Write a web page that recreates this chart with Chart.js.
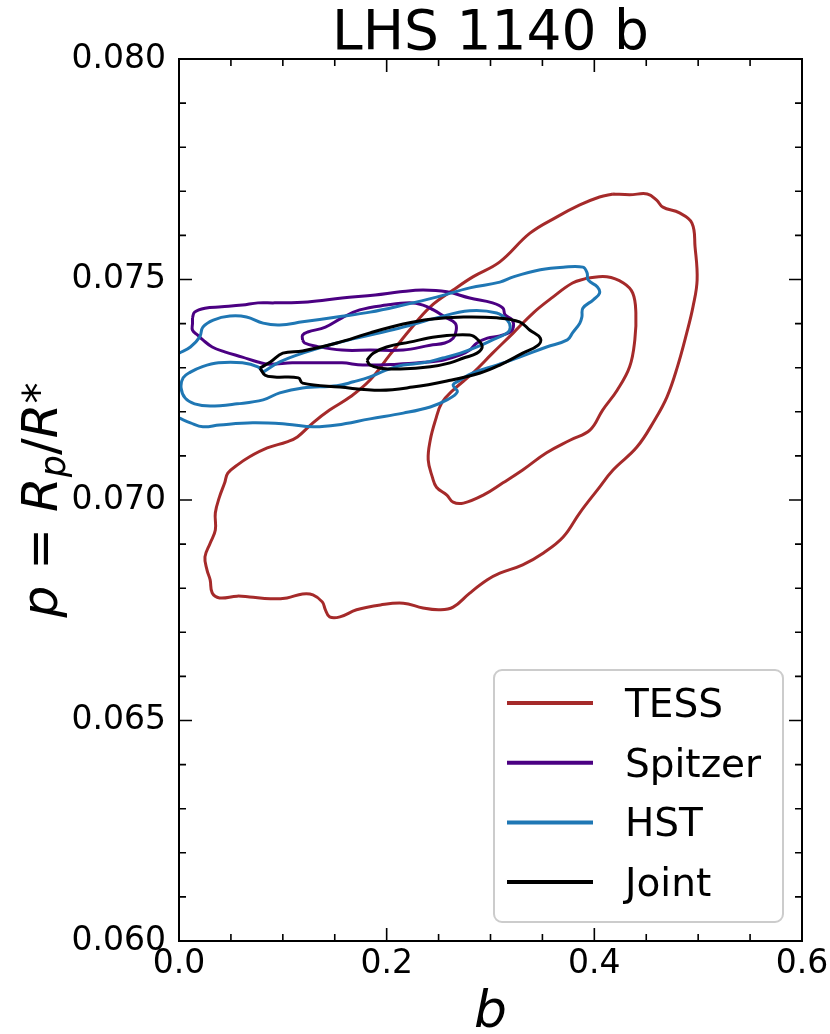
<!DOCTYPE html>
<html><head><meta charset="utf-8">
<script src="https://cdn.jsdelivr.net/npm/chart.js@4.4.0/dist/chart.umd.min.js"></script>
<style>html,body{margin:0;padding:0;background:#fff;}#c{display:block;}</style>
</head><body>
<canvas id="c" width="830" height="1034" style="width:830px;height:1034px"></canvas>
<script>
// ---------- text / categories ----------
const chartTitle = 'LHS 1140 b';
const xAxisLabel = 'b';
const seriesNames = ['TESS', 'Spitzer', 'HST', 'Joint'];
const seriesColors = ['#a52a2a', '#4b0082', '#1f77b4', '#000000'];
const xTickValues = [0.0, 0.2, 0.4, 0.6];
const yTickValues = [0.060, 0.065, 0.070, 0.075, 0.080];
const xMinorStep = 0.05;
const yMinorStep = 0.001;

// ---------- contour data: [b, p] pairs ----------
const tessOuter = [[0.418,0.07694],[0.434,0.07692],[0.451,0.07694],[0.460,0.07680],[0.466,0.07664],[0.482,0.07651],[0.494,0.07628],[0.497,0.07574],[0.499,0.07499],[0.495,0.07438],[0.489,0.07379],[0.480,0.07302],[0.470,0.07234],[0.458,0.07181],[0.441,0.07120],[0.418,0.07068],[0.403,0.07023],[0.386,0.06971],[0.370,0.06916],[0.351,0.06880],[0.331,0.06853],[0.309,0.06834],[0.297,0.06819],[0.280,0.06789],[0.264,0.06757],[0.251,0.06751],[0.235,0.06755],[0.216,0.06766],[0.194,0.06762],[0.171,0.06751],[0.155,0.06735],[0.145,0.06735],[0.141,0.06751],[0.138,0.06769],[0.129,0.06785],[0.119,0.06787],[0.104,0.06778],[0.088,0.06776],[0.068,0.06780],[0.056,0.06782],[0.039,0.06778],[0.032,0.06789],[0.030,0.06819],[0.027,0.06841],[0.025,0.06871],[0.030,0.06902],[0.035,0.06932],[0.035,0.06971],[0.039,0.07007],[0.044,0.07039],[0.047,0.07061],[0.056,0.07079],[0.068,0.07098],[0.085,0.07118],[0.104,0.07132],[0.114,0.07143],[0.129,0.07175],[0.145,0.07204],[0.165,0.07234],[0.184,0.07272],[0.203,0.07329],[0.222,0.07385],[0.242,0.07438],[0.264,0.07476],[0.283,0.07506],[0.309,0.07540],[0.338,0.07605],[0.364,0.07642],[0.386,0.07669],[0.405,0.07687]];
const tessInner = [[0.393,0.07503],[0.412,0.07506],[0.428,0.07492],[0.437,0.07469],[0.440,0.07424],[0.439,0.07363],[0.434,0.07302],[0.422,0.07249],[0.408,0.07204],[0.396,0.07159],[0.377,0.07136],[0.354,0.07107],[0.331,0.07068],[0.312,0.07039],[0.293,0.07011],[0.274,0.06993],[0.264,0.06995],[0.258,0.07011],[0.248,0.07029],[0.244,0.07052],[0.240,0.07091],[0.242,0.07136],[0.247,0.07181],[0.253,0.07220],[0.264,0.07249],[0.283,0.07288],[0.302,0.07333],[0.322,0.07379],[0.341,0.07424],[0.360,0.07460],[0.379,0.07492]];
const spitzerOuter = [[0.013,0.07413],[0.015,0.07426],[0.025,0.07435],[0.041,0.07438],[0.061,0.07442],[0.076,0.07447],[0.092,0.07447],[0.124,0.07449],[0.157,0.07458],[0.189,0.07465],[0.213,0.07472],[0.235,0.07476],[0.258,0.07472],[0.280,0.07458],[0.302,0.07447],[0.312,0.07435],[0.314,0.07420],[0.321,0.07408],[0.322,0.07392],[0.319,0.07381],[0.309,0.07372],[0.297,0.07367],[0.287,0.07356],[0.280,0.07340],[0.271,0.07329],[0.254,0.07317],[0.239,0.07313],[0.210,0.07308],[0.177,0.07306],[0.157,0.07311],[0.124,0.07311],[0.109,0.07311],[0.086,0.07308],[0.076,0.07313],[0.061,0.07324],[0.044,0.07336],[0.032,0.07347],[0.023,0.07363],[0.018,0.07374],[0.013,0.07385],[0.013,0.07401]];
const spitzerInner = [[0.119,0.07363],[0.119,0.07374],[0.124,0.07381],[0.141,0.07392],[0.157,0.07413],[0.174,0.07431],[0.200,0.07442],[0.222,0.07447],[0.235,0.07442],[0.245,0.07431],[0.256,0.07415],[0.266,0.07401],[0.267,0.07385],[0.264,0.07367],[0.256,0.07356],[0.242,0.07351],[0.216,0.07340],[0.184,0.07340],[0.157,0.07340],[0.131,0.07349],[0.121,0.07356]];
const hstOuter = [[0.000,0.07333],[0.011,0.07347],[0.020,0.07370],[0.023,0.07392],[0.033,0.07408],[0.049,0.07417],[0.065,0.07415],[0.081,0.07401],[0.097,0.07397],[0.119,0.07404],[0.152,0.07415],[0.184,0.07426],[0.216,0.07442],[0.248,0.07460],[0.280,0.07481],[0.309,0.07494],[0.322,0.07506],[0.348,0.07522],[0.370,0.07528],[0.389,0.07528],[0.393,0.07515],[0.394,0.07499],[0.403,0.07483],[0.405,0.07469],[0.399,0.07454],[0.389,0.07435],[0.388,0.07415],[0.386,0.07401],[0.379,0.07379],[0.374,0.07363],[0.354,0.07347],[0.328,0.07324],[0.306,0.07306],[0.283,0.07288],[0.271,0.07272],[0.264,0.07261],[0.268,0.07245],[0.258,0.07227],[0.242,0.07211],[0.216,0.07197],[0.184,0.07184],[0.152,0.07170],[0.129,0.07166],[0.104,0.07172],[0.071,0.07175],[0.039,0.07170],[0.023,0.07166],[0.011,0.07175],[0.000,0.07186]];
const hstInner = [[0.081,0.07290],[0.097,0.07313],[0.119,0.07333],[0.152,0.07356],[0.184,0.07374],[0.216,0.07392],[0.248,0.07413],[0.280,0.07429],[0.306,0.07424],[0.316,0.07408],[0.319,0.07392],[0.316,0.07379],[0.302,0.07363],[0.287,0.07347],[0.271,0.07333],[0.254,0.07322],[0.235,0.07311],[0.216,0.07306],[0.200,0.07295],[0.184,0.07279],[0.168,0.07268],[0.152,0.07259],[0.119,0.07254],[0.097,0.07243],[0.081,0.07227],[0.056,0.07218],[0.030,0.07213],[0.015,0.07218],[0.006,0.07231],[0.002,0.07254],[0.004,0.07277],[0.011,0.07290],[0.022,0.07302],[0.038,0.07311],[0.061,0.07311],[0.076,0.07302]];
const jointOuter = [[0.078,0.07299],[0.088,0.07313],[0.100,0.07333],[0.119,0.07338],[0.152,0.07356],[0.184,0.07379],[0.216,0.07399],[0.242,0.07410],[0.274,0.07415],[0.306,0.07413],[0.328,0.07404],[0.338,0.07385],[0.348,0.07367],[0.346,0.07351],[0.331,0.07333],[0.309,0.07306],[0.290,0.07288],[0.258,0.07270],[0.225,0.07256],[0.194,0.07249],[0.155,0.07256],[0.119,0.07265],[0.115,0.07277],[0.092,0.07279],[0.083,0.07283]];
const jointInner = [[0.181,0.07317],[0.187,0.07333],[0.200,0.07347],[0.222,0.07358],[0.248,0.07370],[0.280,0.07374],[0.288,0.07363],[0.292,0.07347],[0.287,0.07333],[0.274,0.07322],[0.261,0.07311],[0.242,0.07302],[0.213,0.07297],[0.194,0.07299],[0.184,0.07306]];

// which series each contour belongs to, and whether it is a closed loop
const contours = [
  {pts: tessOuter, s: 0, closed: true},
  {pts: tessInner, s: 0, closed: true},
  {pts: spitzerOuter, s: 1, closed: true},
  {pts: spitzerInner, s: 1, closed: true},
  {pts: hstOuter, s: 2, closed: false},
  {pts: hstInner, s: 2, closed: true},
  {pts: jointOuter, s: 3, closed: true},
  {pts: jointInner, s: 3, closed: true}
];

const FONT = '"DejaVu Sans", "Liberation Sans", sans-serif';

const datasets = contours.map(c => {
  const data = c.pts.map(([b, p]) => ({x: b, y: p}));
  if (c.closed) data.push({x: c.pts[0][0], y: c.pts[0][1]});
  return {
    label: seriesNames[c.s],
    data,
    showLine: true,
    borderColor: seriesColors[c.s],
    backgroundColor: seriesColors[c.s],
    borderWidth: 3,
    pointRadius: 0,
    tension: 0.4,
    fill: false,
    order: 4 - c.s
  };
});

const framePlugin = {
  id: 'frame',
  afterDraw(chart) {
    const ctx = chart.ctx, a = chart.chartArea;
    const xs = chart.scales.x, ys = chart.scales.y;
    ctx.save();
    ctx.strokeStyle = '#000';
    ctx.lineWidth = 2;
    ctx.strokeRect(a.left, a.top, a.right - a.left, a.bottom - a.top);
    ctx.lineWidth = 1.6;
    // x ticks (inward, bottom and top)
    const nx = Math.round((xs.max - xs.min) / xMinorStep);
    for (let i = 0; i <= nx; i++) {
      const v = xs.min + i * xMinorStep;
      const px = xs.getPixelForValue(v);
      const major = xTickValues.some(t => Math.abs(t - v) < 1e-9);
      const len = major ? 13 : 7;
      ctx.beginPath();
      ctx.moveTo(px, a.bottom); ctx.lineTo(px, a.bottom - len);
      ctx.moveTo(px, a.top); ctx.lineTo(px, a.top + len);
      ctx.stroke();
    }
    const ny = Math.round((ys.max - ys.min) / yMinorStep);
    for (let i = 0; i <= ny; i++) {
      const v = ys.min + i * yMinorStep;
      const py = ys.getPixelForValue(v);
      const major = yTickValues.some(t => Math.abs(t - v) < 1e-9);
      const len = major ? 13 : 7;
      ctx.beginPath();
      ctx.moveTo(a.left, py); ctx.lineTo(a.left + len, py);
      ctx.moveTo(a.right, py); ctx.lineTo(a.right - len, py);
      ctx.stroke();
    }
    // title
    ctx.fillStyle = '#000';
    ctx.textAlign = 'center';
    ctx.textBaseline = 'alphabetic';
    ctx.font = '55px ' + FONT;
    ctx.fillText(chartTitle, (a.left + a.right) / 2, 49);
    // x label
    ctx.font = 'italic 52px ' + FONT;
    ctx.fillText(xAxisLabel, (a.left + a.right) / 2, 1027);
    // y label  p = R_p / R_*
    const segs = [
      {t: 'p', f: 'italic 50px ', dy: 0},
      {t: ' = ', f: '50px ', dy: 0},
      {t: 'R', f: 'italic 50px ', dy: 0},
      {t: 'p', f: 'italic 35px ', dy: 8},
      {t: '/', f: '50px ', dy: 0},
      {t: 'R', f: 'italic 50px ', dy: 0},
      {t: '*', f: '42px ', dy: -4}
    ];
    let total = 0;
    segs.forEach(s => { ctx.font = s.f + FONT; s.w = ctx.measureText(s.t).width; total += s.w; });
    ctx.translate(57, (a.top + a.bottom) / 2);
    ctx.rotate(-Math.PI / 2);
    ctx.textAlign = 'left';
    let x = -total / 2;
    segs.forEach(s => { ctx.font = s.f + FONT; ctx.fillText(s.t, x, s.dy); x += s.w; });
    ctx.restore();

    // legend box
    ctx.save();
    const lx = 494, ly = 670, lw = 289, lh = 252;
    ctx.beginPath();
    if (ctx.roundRect) ctx.roundRect(lx, ly, lw, lh, 8); else ctx.rect(lx, ly, lw, lh);
    ctx.fillStyle = 'rgba(255,255,255,0.85)';
    ctx.fill();
    ctx.lineWidth = 2;
    ctx.strokeStyle = '#cccccc';
    ctx.stroke();
    seriesNames.forEach((n, i) => {
      const y = 703 + i * 59.7;
      ctx.strokeStyle = seriesColors[i];
      ctx.lineWidth = 4;
      ctx.beginPath(); ctx.moveTo(507, y); ctx.lineTo(593, y); ctx.stroke();
      ctx.fillStyle = '#000';
      ctx.font = '39px ' + FONT;
      ctx.textAlign = 'left';
      ctx.textBaseline = 'alphabetic';
      ctx.fillText(n, 625, y + 14);
    });
    ctx.restore();
  }
};

new Chart(document.getElementById('c'), {
  type: 'scatter',
  data: {datasets},
  options: {
    responsive: false,
    animation: false,
    events: [],
    layout: {padding: {left: 0, top: 59, right: 28, bottom: 0}},
    plugins: {legend: {display: false}, title: {display: false}, tooltip: {enabled: false}},
    scales: {
      x: {
        type: 'linear', min: 0, max: 0.6,
        grid: {display: false, drawTicks: false},
        border: {display: false},
        ticks: {
          stepSize: 0.2, maxRotation: 0, autoSkip: false, padding: 4,
          color: '#000', font: {family: FONT, size: 33},
          callback: v => Number(v).toFixed(1)
        },
        afterFit: s => { s.height = 93; s.paddingLeft = 0; s.paddingRight = 0; }
      },
      y: {
        type: 'linear', min: 0.060, max: 0.080,
        grid: {display: false, drawTicks: false},
        border: {display: false},
        ticks: {
          stepSize: 0.005, autoSkip: false, padding: 13,
          color: '#000', font: {family: FONT, size: 33},
          callback: v => Number(v).toFixed(3)
        },
        afterFit: s => { s.width = 179; s.paddingTop = 0; s.paddingBottom = 0; }
      }
    }
  },
  plugins: [framePlugin]
});
</script>
</body></html>
